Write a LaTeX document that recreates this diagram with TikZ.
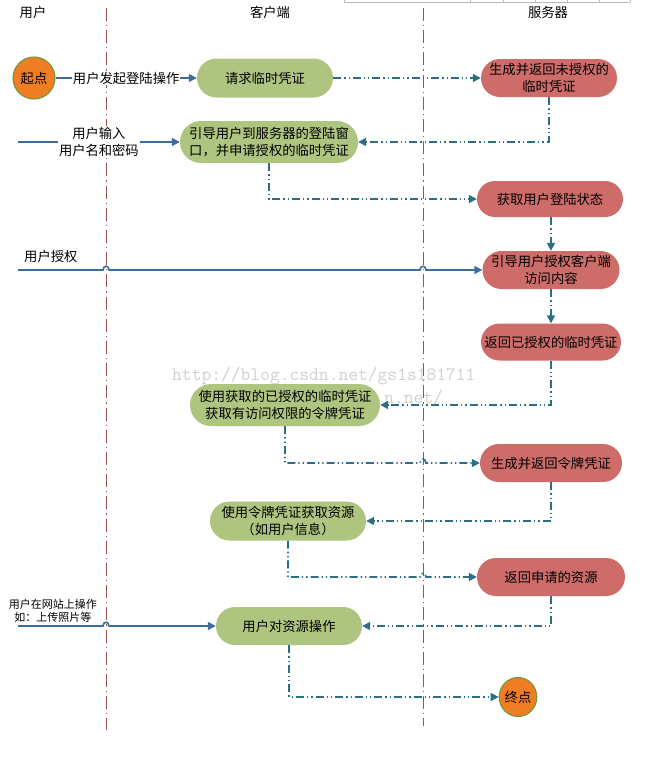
\documentclass[tikz,border=0pt]{standalone}
\usepackage{fontspec}
\newfontfamily\cjk{Noto Sans CJK SC}
\usetikzlibrary{arrows.meta,calc,shapes.geometric}
\definecolor{gfill}{HTML}{AEC57F}
\definecolor{rfill}{HTML}{CD6C68}
\definecolor{ofill}{HTML}{EE7D24}
\definecolor{oline}{HTML}{6E9B3A}
\definecolor{conncol}{HTML}{2E6E84}
\definecolor{solcol}{HTML}{3D6D9C}
\definecolor{lanecol}{HTML}{9A5252}
\definecolor{wmcol}{HTML}{D0D0D0}
\pgfdeclarelayer{bg}
\pgfsetlayers{bg,main}
\begin{document}
\begin{tikzpicture}[x=1pt,y=-1pt,
  txt/.style={font=\cjk\fontsize{13.3}{17.5}\selectfont, align=center, text=black},
  sz/.style n args={3}{minimum width=#1pt, minimum height=#2pt, rounded corners=#3pt},
  gbox/.style={txt, rectangle, fill=gfill, inner sep=0pt},
  rbox/.style={txt, rectangle, fill=rfill, inner sep=0pt},
  term/.style={txt, ellipse, fill=ofill, draw=oline, line width=1.1pt, inner sep=0pt},
  conn/.style={draw=conncol, line width=1.6pt, dash pattern=on 8pt off 3pt on 1.3pt off 3pt on 1.3pt off 3pt, -{Triangle[length=8pt,width=8pt]}},
  sol/.style={draw=solcol, line width=1.6pt, -{Triangle[length=8pt,width=8pt]}},
  lane/.style={draw=lanecol, line width=0.9pt, dash pattern=on 13pt off 4pt on 1.2pt off 4pt},
  lbl/.style={txt, fill=white, inner sep=1pt},
  wm/.style={font=\ttfamily\fontsize{19}{19}\selectfont, text=wmcol, anchor=base west, inner sep=0pt},
]
\useasboundingbox (0,0) rectangle (651,772);
\coordinate (L1) at (106,0);
\coordinate (L2) at (423,0);

% nodes
\node[txt] (h1) at (33,12) {用户};
\node[txt] (h2) at (270,12) {客户端};
\node[txt] (h3) at (548,12) {服务器};

\node[term, minimum width=42pt, minimum height=42pt] (s) at (34,78) {起点};
\node[gbox, sz={136}{39}{19.5}] (g1) at (265,78) {请求临时凭证};
\node[rbox, sz={136}{38}{19}] (r1) at (549,78) {生成并返回未授权的\\临时凭证};
\node[gbox, sz={178}{42}{21}] (g2) at (269,142) {引导用户到服务器的登陆窗\\口，并申请授权的临时凭证};
\node[rbox, sz={146}{36}{18}] (r2) at (550,199) {获取用户登陆状态};
\node[rbox, sz={137}{38}{19}] (r3) at (551,270) {引导用户授权客户端\\访问内容};
\node[rbox, sz={140}{37}{18.5}] (r4) at (551,342) {返回已授权的临时凭证};
\node[gbox, sz={190}{42}{21}] (g3) at (285,405) {使用获取的已授权的临时凭证\\获取有访问权限的令牌凭证};
\node[rbox, sz={142}{38}{19}] (r5) at (551,463) {生成并返回令牌凭证};
\node[gbox, sz={156}{39}{19.5}] (g4) at (288,521) {使用令牌凭证获取资源\\（如用户信息）};
\node[rbox, sz={148}{38}{19}] (r6) at (551,577) {返回申请的资源};
\node[gbox, sz={146}{38}{19}] (g5) at (289,626) {用户对资源操作};
\node[term, minimum width=37pt, minimum height=39pt] (e) at (518,697) {终点};

\coordinate (i1) at (18,142);
\coordinate (i2) at (18,270);
\coordinate (i3) at (18,626);

% background layer
\begin{pgfonlayer}{bg}
  \fill[white] (0,0) rectangle (651,772);
  \node[wm] (wm1) at (172,380) {http://blog.csdn.net/gs1s181711};
  \node[wm] (wm2) at (384,403) {n.net/};
  \draw[lane] (106,8) -- (106,730);
  \draw[lane] (423,8) -- (423,726);
  \draw[gray!55, line width=0.8pt] (344,2) -- (630,2);
  \foreach \xx in {344,470,503,535,567,599,630} \draw[gray!55, line width=0.8pt] (\xx,0) -- (\xx,2);
\end{pgfonlayer}

% dash-dot connectors
\draw[conn] (g1.east) -- (r1.west);
\draw[conn] (r1.south) |- (g2.east);
\draw[conn] (g2.south) |- (r2.west);
\draw[conn] (r3.north |- r2.south) -- (r3.north);
\draw[conn] (r3.south) -- (r4.north);
\draw[conn] (r4.south) |- (g3.east);
\draw[conn] (g3.south) |- ($(L2 |- r5.west)+(-3,0)$) .. controls +(0,-5) and +(0,-5) .. ($(L2 |- r5.west)+(3,0)$) -- (r5.west);
\draw[conn] (r5.south) |- (g4.east);
\draw[conn] (g4.south) |- ($(L2 |- r6.west)+(-3,0)$) .. controls +(0,-5) and +(0,-5) .. ($(L2 |- r6.west)+(3,0)$) -- (r6.west);
\draw[conn] (r6.south) |- (g5.east);
\draw[conn] (g5.south) |- (e.west);

% solid connectors
\draw[sol] (s.east) -- node[lbl] (la1) {用户发起登陆操作} (g1.west);
\draw[sol] (i1) -- node[lbl] (la2) {用户输入\\用户名和密码} (g2.west);
\draw[sol] (i2) -- ($(L1 |- i2)+(-3,0)$) .. controls +(0,-5) and +(0,-5) .. ($(L1 |- i2)+(3,0)$)
   -- ($(L2 |- i2)+(-3,0)$) .. controls +(0,-5) and +(0,-5) .. ($(L2 |- i2)+(3,0)$) -- (r3.west);
\node[txt, anchor=west, inner sep=0pt] (la3) at (24,256) {用户授权};
\draw[sol] (i3) -- ($(L1 |- i3)+(-3,0)$) .. controls +(0,-5) and +(0,-5) .. ($(L1 |- i3)+(3,0)$) -- (g5.west);
\node[txt, font=\cjk\fontsize{11}{13}\selectfont] (la4) at (53,611) {用户在网站上操作\\如：上传照片等};
\end{tikzpicture}
\end{document}
